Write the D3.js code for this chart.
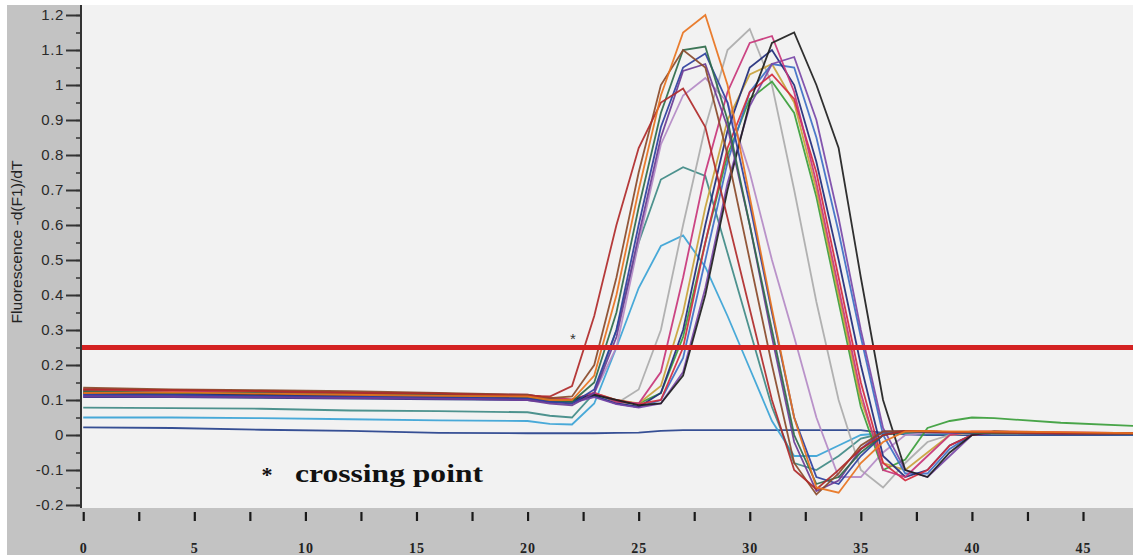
<!DOCTYPE html>
<html>
<head>
<meta charset="utf-8">
<script src="https://cdn.jsdelivr.net/npm/d3@7"></script>
<style>
  body { margin: 0; background: #fff; }
  svg { display: block; }
</style>
</head>
<body>
<script>
var cycles = [0, 4, 8, 12, 16, 20, 21, 22, 23, 24, 25, 26, 27, 28, 29, 30, 31, 32, 33, 34, 35, 36, 37, 38, 39, 40, 41, 44, 48];

// early group (peak around cycle 27-28)
var darkRed  = [.13,.128,.125,.12,.118,.112,.11,.14,.34,.6,.82,.95,.99,.88,.62,.36,.1,-.1,-.155,-.1,-.04,0,.012,.01,.008,.008,.008,.005,.005];
var orange   = [.12,.122,.118,.115,.112,.11,.1,.1,.17,.4,.7,.97,1.15,1.2,1.0,.68,.36,.05,-.15,-.165,-.08,-.02,.01,.012,.01,.01,.01,.008,.005];
var darkGreen= [.125,.12,.12,.118,.115,.11,.1,.095,.15,.35,.65,.92,1.1,1.11,.9,.6,.3,0,-.14,-.12,-.05,0,.01,.01,.008,.006,.005,.005,.004];
var blue     = [.115,.115,.112,.11,.108,.105,.095,.09,.13,.3,.6,.88,1.05,1.09,.95,.66,.35,.05,-.12,-.14,-.06,0,.012,.01,.008,.006,.006,.004,.003];
var purple   = [.11,.11,.108,.106,.104,.1,.09,.085,.12,.28,.57,.85,1.04,1.06,.88,.6,.28,-.02,-.16,-.13,-.04,.01,.01,.008,.006,.005,.005,.004,.003];
var brown    = [.135,.13,.128,.125,.12,.115,.105,.11,.2,.45,.75,1.0,1.1,1.05,.8,.5,.2,-.08,-.17,-.11,-.03,.01,.012,.01,.008,.008,.006,.005,.004];
var teal     = [.078,.077,.075,.07,.068,.065,.055,.05,.12,.3,.55,.73,.765,.74,.52,.3,.08,-.08,-.1,-.06,-.01,.005,.005,.005,.004,.004,.004,.003,.003];
var cyan     = [.05,.05,.048,.045,.042,.04,.032,.03,.09,.25,.42,.54,.57,.48,.34,.19,.04,-.06,-.06,-.03,0,.005,.005,.004,.004,.003,.003,.003,.002];
var mauve    = [.118,.116,.114,.112,.11,.106,.1,.098,.12,.25,.55,.83,.97,1.02,.95,.75,.5,.28,.05,-.12,-.12,-.05,0,.006,.006,.005,.005,.004,.003];
var gray     = [.12,.118,.115,.112,.11,.105,.1,.1,.11,.09,.13,.3,.6,.88,1.1,1.16,1.0,.7,.38,.1,-.1,-.15,-.08,-.02,0,.005,.005,.004,.003];

// late group (peak around cycle 31-32)
var black    = [.12,.118,.115,.113,.11,.108,.1,.1,.115,.1,.085,.09,.17,.4,.7,.95,1.12,1.15,1.0,.82,.45,.1,-.1,-.12,-.05,0,.01,.005,.004];
var pink     = [.125,.125,.12,.12,.118,.115,.105,.1,.12,.095,.09,.18,.45,.75,.98,1.12,1.14,.98,.72,.42,.12,-.1,-.12,-.06,0,.01,.01,.008,.005];
var navy     = [.108,.108,.106,.104,.102,.1,.095,.095,.11,.09,.08,.12,.3,.6,.87,1.05,1.1,1.0,.78,.5,.2,-.06,-.12,-.1,-.03,0,.006,.004,.003];
var steel    = [.116,.114,.112,.11,.108,.104,.098,.096,.112,.09,.08,.1,.22,.5,.78,.98,1.06,1.05,.85,.58,.28,0,-.11,-.11,-.04,0,.006,.004,.003];
var green    = [.122,.12,.118,.115,.112,.108,.1,.1,.118,.095,.09,.12,.28,.55,.8,.96,1.01,.92,.68,.38,.08,-.1,-.07,.02,.04,.05,.048,.035,.024];
var olive    = [.128,.126,.124,.12,.116,.112,.104,.1,.12,.1,.09,.14,.35,.65,.9,1.03,1.06,.95,.7,.4,.1,-.08,-.1,-.05,0,.008,.008,.006,.004];
var red2     = [.13,.128,.126,.122,.118,.114,.106,.102,.12,.1,.088,.1,.25,.55,.82,.98,1.03,.96,.75,.45,.15,-.08,-.13,-.1,-.03,0,.008,.006,.004];
var purple2  = [.112,.11,.108,.106,.104,.1,.094,.092,.108,.088,.078,.09,.18,.42,.72,.94,1.06,1.08,.9,.62,.3,.02,-.1,-.12,-.06,0,.006,.004,.003];

// negative control, stays flat
var flat     = [.022,.02,.015,.012,.006,.005,.005,.005,.005,.006,.007,.012,.014,.014,.014,.014,.014,.014,.014,.014,.014,.006,.002,0,0,0,0,0,0];

var seriesList   = [flat, cyan, teal, gray, mauve, green, olive, steel, navy, purple2, red2, pink, black, blue, purple, darkGreen, brown, darkRed, orange];
var seriesColors = ["#26418c", "#3aa3d6", "#3f8a86", "#ababab", "#b48ac6", "#3b9e3b", "#c9a23a", "#3d6fc6", "#1f2b7a", "#7a48a8", "#d42b3e", "#c8357a", "#1e1e1e", "#2c3f9e", "#6b3c96", "#2e6b4a", "#8a4a2a", "#b02a2a", "#e8731e"];

var threshold = 0.25;
var yTicks = [-0.2, -0.1, 0, 0.1, 0.2, 0.3, 0.4, 0.5, 0.6, 0.7, 0.8, 0.9, 1, 1.1, 1.2];
var xTicks = [0, 5, 10, 15, 20, 25, 30, 35, 40, 45];

var width = 1133, height = 555;
var plotLeft = 81, plotTop = 5, plotBottom = 508;

var svg = d3.select("body").append("svg")
    .attr("width", width)
    .attr("height", height);

// grey frame and light plot area
svg.append("rect").attr("x", 7).attr("y", 5).attr("width", width - 7).attr("height", height - 5).attr("fill", "#c3c3c3");
svg.append("rect").attr("x", plotLeft).attr("y", plotTop).attr("width", width - plotLeft).attr("height", plotBottom - plotTop).attr("fill", "#f2f2f2");

var x = d3.scaleLinear().domain([-0.1, 47.25]).range([plotLeft, width]);
var y = d3.scaleLinear().domain([-0.2, 1.2]).range([505, 15]);

svg.append("clipPath").attr("id", "plotclip")
    .append("rect").attr("x", plotLeft + 1).attr("y", plotTop).attr("width", width - plotLeft).attr("height", plotBottom - plotTop);

var line = d3.line()
    .x(function (d, i) { return x(cycles[i]); })
    .y(function (d) { return y(d); });

svg.append("g").attr("clip-path", "url(#plotclip)")
    .selectAll("path")
    .data(seriesList)
    .enter().append("path")
    .attr("d", line)
    .attr("fill", "none")
    .attr("stroke", function (d, i) { return seriesColors[i]; })
    .attr("stroke-width", 1.8)
    .attr("stroke-linejoin", "miter")
    .attr("opacity", 0.92);

// threshold line
svg.append("line")
    .attr("x1", plotLeft).attr("x2", width)
    .attr("y1", y(threshold)).attr("y2", y(threshold))
    .attr("stroke", "#d42222")
    .attr("stroke-width", 5);

// y axis
var minorY = d3.range(-4, 25).map(function (d) { return d / 20; });
svg.append("g")
    .attr("transform", "translate(" + plotLeft + ",0)")
    .call(d3.axisLeft(y).tickValues(minorY).tickSize(5).tickFormat(""))
    .call(function (g) { g.select(".domain").remove(); })
    .selectAll("line").attr("stroke", "#333").attr("stroke-width", 1.5);

var yAxis = svg.append("g")
    .attr("transform", "translate(" + plotLeft + ",0)")
    .call(d3.axisLeft(y).tickValues(yTicks).tickSize(15).tickSizeOuter(0).tickPadding(2)
        .tickFormat(function (d) { return String(+d.toFixed(1)); }));
yAxis.select(".domain").attr("stroke", "#333").attr("stroke-width", 2).attr("d", "M0," + plotTop + "V" + plotBottom);
yAxis.selectAll(".tick line").attr("stroke", "#333").attr("stroke-width", 2);
yAxis.selectAll("text")
    .attr("font-family", "Liberation Sans, Arial, sans-serif")
    .attr("font-size", 15)
    .attr("letter-spacing", 0.6)
    .attr("fill", "#2a2a2a");

svg.append("text")
    .attr("transform", "translate(22,242) rotate(-90)")
    .attr("text-anchor", "middle")
    .attr("font-family", "Liberation Sans, Arial, sans-serif")
    .attr("font-size", 14)
    .attr("fill", "#222")
    .attr("textLength", 163)
    .attr("lengthAdjust", "spacingAndGlyphs")
    .text("Fluorescence -d(F1)/dT");

// x axis, ticks in the grey band below the plot
var xAxis = svg.append("g")
    .attr("transform", "translate(0,512)")
    .call(d3.axisBottom(x).tickValues(d3.range(0, 47, 2.5)).tickSize(9).tickPadding(22)
        .tickFormat(function (d) { return xTicks.indexOf(d) >= 0 ? d : ""; }));
xAxis.select(".domain").remove();
xAxis.selectAll(".tick line").attr("stroke", "#1a1a1a").attr("stroke-width", 2.2);
xAxis.selectAll("text")
    .attr("font-family", "Liberation Serif, Times New Roman, serif")
    .attr("font-size", 14)
    .attr("font-weight", "bold")
    .attr("letter-spacing", 1)
    .attr("fill", "#222");

// crossing point marker and note
svg.append("text")
    .attr("x", 573).attr("y", 344)
    .attr("text-anchor", "middle")
    .attr("font-family", "Liberation Sans, Arial, sans-serif")
    .attr("font-size", 15)
    .attr("fill", "#333")
    .text("*");

svg.append("text")
    .attr("x", 267).attr("y", 482)
    .attr("text-anchor", "middle")
    .attr("font-family", "Liberation Serif, Times New Roman, serif")
    .attr("font-size", 22)
    .attr("font-weight", "bold")
    .attr("fill", "#111")
    .text("*");

svg.append("text")
    .attr("x", 295).attr("y", 482)
    .attr("font-family", "Liberation Serif, Times New Roman, serif")
    .attr("font-size", 25)
    .attr("font-weight", "bold")
    .attr("fill", "#111")
    .attr("textLength", 188)
    .attr("lengthAdjust", "spacingAndGlyphs")
    .text("crossing point");
</script>
</body>
</html>
